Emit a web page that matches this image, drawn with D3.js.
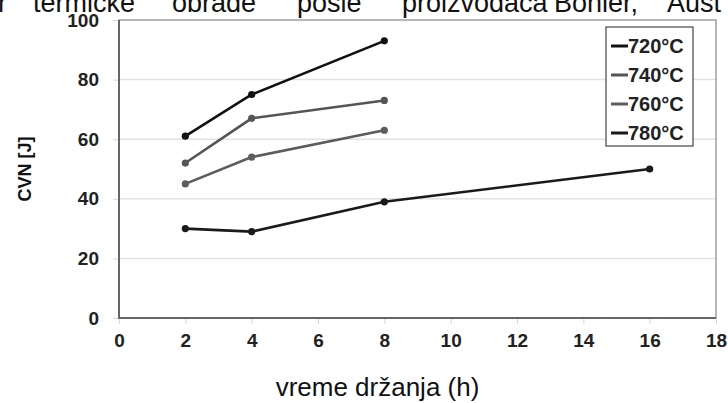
<!DOCTYPE html>
<html><head><meta charset="utf-8">
<script src="https://cdn.jsdelivr.net/npm/d3@7"></script>
<style>body{margin:0;background:#fff}svg{display:block}</style>
</head><body>
<script>
const xTicks = [0,2,4,6,8,10,12,14,16,18];
const yTicks = [0,20,40,60,80,100];
const seriesNames = ["720°C","740°C","760°C","780°C"];
const s720 = [[2,61],[4,75],[8,93]];
const s740 = [[2,52],[4,67],[8,73]];
const s760 = [[2,45],[4,54],[8,63]];
const s780 = [[2,30],[4,29],[8,39],[16,50]];
const colors = ["#111","#555","#5c5c5c","#1a1a1a"];
const topWords = [["r",-2],["termičke",33],["obrade",172],["posle",297],["proizvođača",402],["Böhler,",554],["Aust",667]];

const W=728,H=403;
const svg=d3.select("body").append("svg").attr("width",W).attr("height",H);
const x=d3.scaleLinear().domain([0,18]).range([119,716]);
const y=d3.scaleLinear().domain([0,100]).range([318,20]);

// top clipped text
svg.append("g").selectAll("text").data(topWords).join("text")
  .attr("x",d=>d[1]).attr("y",12).attr("font-family","Liberation Sans, Arial, sans-serif")
  .attr("font-size",27).attr("fill","#111").text(d=>d[0]);

// gridlines
svg.append("g").selectAll("line").data(yTicks.filter(v=>v>0&&v<100)).join("line")
  .attr("x1",x(0)).attr("x2",x(18)).attr("y1",d=>y(d)).attr("y2",d=>y(d))
  .attr("stroke","#e2e2e2").attr("stroke-width",1.5);

// axes
const fontAx="Liberation Sans, Arial, sans-serif";
const ya=svg.append("g").attr("transform",`translate(${x(0)},0)`)
  .call(d3.axisLeft(y).tickValues(yTicks).tickSize(6).tickPadding(14).tickFormat(d3.format("d")));
const xa=svg.append("g").attr("transform",`translate(0,${y(0)})`)
  .call(d3.axisBottom(x).tickValues(xTicks).tickSize(6).tickPadding(10).tickFormat(d3.format("d")));
[ya,xa].forEach(a=>{
  a.select(".domain").remove();
  a.selectAll(".tick line").attr("stroke","#d8d8d8");
  a.selectAll(".tick text").attr("font-family",fontAx).attr("font-weight","bold")
   .attr("font-size",19).attr("fill","#222");
});

// frame
svg.append("rect").attr("x",x(0)).attr("y",y(100)).attr("width",x(18)-x(0)).attr("height",y(0)-y(100))
  .attr("fill","none").attr("stroke","#888").attr("stroke-width",1.2);
svg.append("path").attr("d",`M${x(0)},${y(100)}V${y(0)}H${x(18)}`)
  .attr("fill","none").attr("stroke","#666").attr("stroke-width",2);

// series
const data=[s720,s740,s760,s780];
const line=d3.line().x(d=>x(d[0])).y(d=>y(d[1]));
data.forEach((s,i)=>{
  svg.append("path").datum(s).attr("d",line).attr("fill","none")
    .attr("stroke",colors[i]).attr("stroke-width",2.6);
  svg.append("g").selectAll("circle").data(s).join("circle")
    .attr("cx",d=>x(d[0])).attr("cy",d=>y(d[1])).attr("r",3.6).attr("fill",colors[i]);
});

// legend
const lg=svg.append("g");
lg.append("rect").attr("x",606).attr("y",27).attr("width",87).attr("height",119)
  .attr("fill","#fff").attr("stroke","#444").attr("stroke-width",1.2);
seriesNames.forEach((n,i)=>{
  const cy=46+i*29;
  lg.append("line").attr("x1",611).attr("x2",628).attr("y1",cy).attr("y2",cy)
    .attr("stroke",colors[i]).attr("stroke-width",3);
  lg.append("text").attr("x",628).attr("y",cy+7).attr("font-family",fontAx)
    .attr("font-weight","bold").attr("font-size",20).attr("fill","#222").text(n);
});

// axis titles
svg.append("text").attr("transform",`translate(31,${(y(0)+y(100))/2}) rotate(-90)`)
  .attr("text-anchor","middle").attr("font-family",fontAx).attr("font-weight","bold")
  .attr("font-size",18).attr("fill","#111").text("CVN [J]");
svg.append("text").attr("x",377.5).attr("y",396).attr("text-anchor","middle")
  .attr("font-family",fontAx).attr("font-size",26).attr("fill","#111").text("vreme držanja (h)");
</script>
</body></html>
